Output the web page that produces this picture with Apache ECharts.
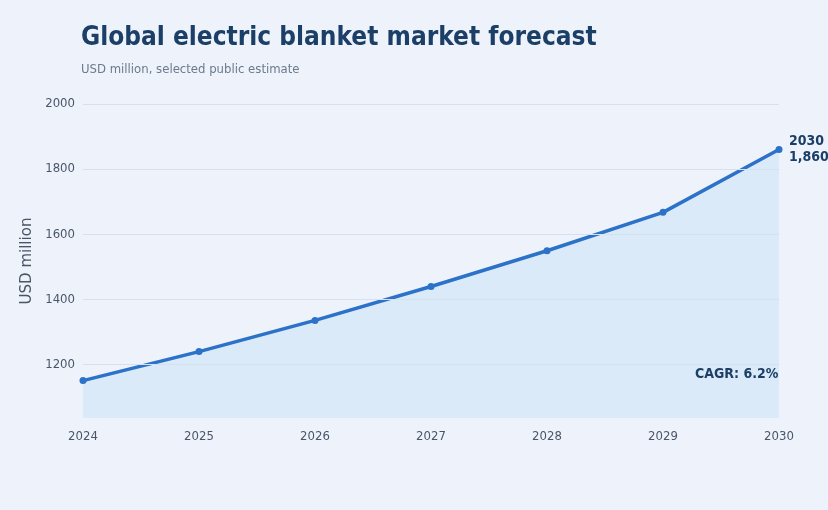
<!DOCTYPE html>
<html>
<head>
<meta charset="utf-8">
<script src="https://cdn.jsdelivr.net/npm/echarts@6/dist/echarts.min.js"></script>
<style>
  html, body { margin: 0; padding: 0; background: #eef3fb; }
  #chart { width: 828px; height: 510px; }
</style>
</head>
<body>
<div id="chart"></div>
<script>
// market size, USD million
var years = ['2024', '2025', '2026', '2027', '2028', '2029', '2030'];
var marketSize = [1150, 1239, 1335, 1439, 1549, 1667, 1860];
var yTicks = [1200, 1400, 1600, 1800, 2000];

var cond = 'DejaVu Sans Condensed, DejaVu Sans';
var chart = echarts.init(document.getElementById('chart'));

var option = {
    backgroundColor: '#eef3fb',
    textStyle: { fontFamily: cond },
    title: {
        text: 'Global electric blanket market forecast',
        subtext: 'USD million, selected public estimate',
        left: 76,
        top: 20,
        itemGap: 12,
        textStyle: { fontSize: 26, fontWeight: 'bold', color: '#1b3f66', fontFamily: cond },
        subtextStyle: { fontSize: 13, color: '#6b7a8c', fontFamily: cond }
    },
    grid: { left: 83, right: 49, top: 104, bottom: 92 },
    xAxis: {
        type: 'category',
        data: years,
        boundaryGap: false,
        axisLine: { show: false },
        axisTick: { show: false },
        axisLabel: { color: '#4a5668', fontSize: 13, margin: 12 }
    },
    yAxis: {
        type: 'value',
        min: 1035,
        max: 2000,
        name: 'USD million',
        nameLocation: 'middle',
        nameGap: 46,
        nameTextStyle: { color: '#4a5668', fontSize: 15, fontFamily: 'DejaVu Sans' },
        axisLine: { show: false },
        axisTick: { show: false, customValues: yTicks },
        axisLabel: { color: '#4a5668', fontSize: 13, customValues: yTicks, formatter: function (v) { return String(v); } },
        splitLine: { show: false }
    },
    series: [{
        type: 'line',
        data: marketSize,
        symbol: 'circle',
        symbolSize: 7,
        lineStyle: { color: '#2b72c8', width: 3.5 },
        itemStyle: { color: '#2b72c8' },
        areaStyle: { color: '#dbeaf8', opacity: 1 },
        markLine: {
            silent: true,
            symbol: 'none',
            label: { show: false },
            lineStyle: { color: '#d6e1ef', type: 'solid', width: 1 },
            data: yTicks.map(function (v) { return { yAxis: v }; })
        },
        endLabel: {
            show: true,
            formatter: function (p) { return p.name + '\n' + p.value.toLocaleString('en-US'); },
            color: '#1b3f66',
            fontWeight: 'bold',
            fontSize: 14,
            lineHeight: 16,
            offset: [2, 0]
        },
        z: 3
    }],
    graphic: [{
        type: 'text',
        left: 695,
        top: 367,
        z: 100,
        style: { text: 'CAGR: 6.2%', fill: '#1b3f66', fontSize: 14, fontWeight: 'bold', fontFamily: cond }
    }]
};

chart.setOption(option);
</script>
</body>
</html>
